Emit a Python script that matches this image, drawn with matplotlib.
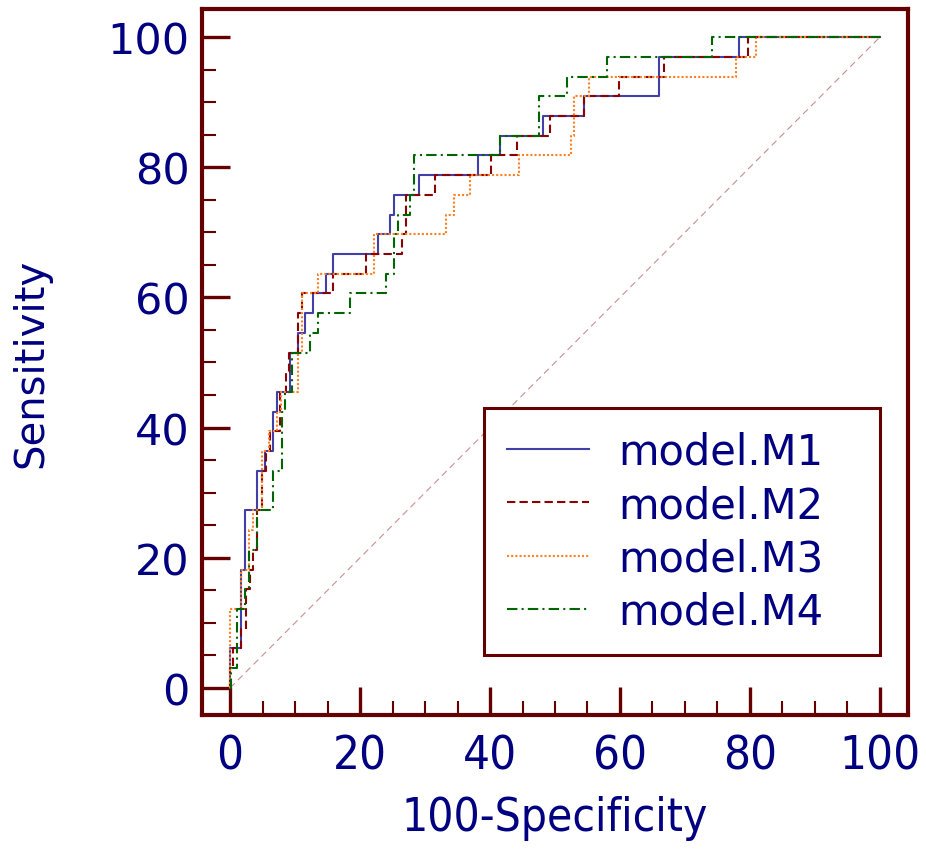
import matplotlib
matplotlib.use("Agg")
import matplotlib.pyplot as plt
from matplotlib.ticker import MultipleLocator

# ---- data ----
m1_fpr = [0, 0, 1.65, 2.3, 4.15, 5.4, 6.6, 7.2, 9.3, 10.5, 11.6, 12.8, 14.7, 15.9, 22.7, 24.6, 25.2,
          29.0, 38.2, 41.6, 48.1, 54.4, 66.0, 78.3, 100]
m1_tpr = [0, 6.1, 18.2, 27.3, 33.3, 36.4, 42.4, 45.5, 51.5, 54.5, 57.6, 60.6, 63.6, 66.7, 69.7, 72.7, 75.8,
          78.8, 81.8, 84.8, 87.9, 90.9, 97.0, 100, 100]

m2_fpr = [0, 0, 0.5, 1.75, 2.45, 3.0, 3.6, 4.2, 4.9, 5.5, 6.15, 7.7, 8.6, 9.15, 10.4, 11.0, 15.9, 20.9,
          26.5, 27.1, 31.5, 40.1, 44.2, 49.3, 54.4, 59.9, 66.7, 79.7, 100]
m2_tpr = [0, 3.0, 6.1, 9.1, 15.2, 18.2, 21.2, 27.3, 33.3, 36.4, 39.4, 45.5, 48.5, 51.5, 57.6, 60.6, 63.6, 66.7,
          69.7, 75.8, 78.8, 81.8, 84.8, 87.9, 90.9, 93.9, 97.0, 100, 100]

m3_fpr = [0, 0, 1.7, 2.9, 3.6, 4.9, 6.0, 7.2, 7.9, 10.4, 11.0, 13.6, 22.2, 33.3, 34.5, 36.9, 44.4,
          52.5, 53.0, 55.2, 77.9, 81.0, 100]
m3_tpr = [0, 12.1, 18.2, 24.2, 27.3, 36.4, 39.4, 42.4, 45.5, 51.5, 60.6, 63.6, 69.7, 72.7, 75.8, 78.8, 81.8,
          84.8, 90.9, 93.9, 97.0, 100, 100]

m4_fpr = [0, 0.2, 1.1, 2.3, 2.9, 4.15, 6.6, 7.95, 8.5, 9.6, 12.3, 13.6, 18.5, 24.0, 25.2, 25.9, 27.7,
          28.3, 41.5, 47.6, 51.8, 58.0, 74.2, 100]
m4_tpr = [0, 3.0, 12.1, 15.2, 21.2, 27.3, 33.3, 42.4, 45.5, 51.5, 54.5, 57.6, 60.6, 63.6, 69.7, 72.7, 75.8,
          81.8, 84.8, 90.9, 93.9, 97.0, 100, 100]

labels = ["model.M1", "model.M2", "model.M3", "model.M4"]
xticks = [0, 20, 40, 60, 80, 100]
yticks = [0, 20, 40, 60, 80, 100]

# ---- style ----
spine_c = "#650000"
text_c = "#000080"
colors = ["#4040a8", "#8b0000", "#ff7f24", "#006400"]
styles = ["-", (0, (4, 2)), (0, (1, 1)), (0, (5, 2, 1, 2))]

fig = plt.figure(figsize=(9.26, 8.54), dpi=100)
ax = fig.add_axes([202 / 926, 1 - 716 / 854, 706 / 926, 706 / 854])

ax.plot([0, 100], [0, 100], color="#c89090", lw=0.8, ls=(0, (6, 4)), zorder=1)

series = [(m1_fpr, m1_tpr), (m2_fpr, m2_tpr), (m3_fpr, m3_tpr), (m4_fpr, m4_tpr)]
for (fx, ty), c, s, lab in zip(series, colors, styles, labels):
    ax.plot(fx, ty, drawstyle="steps-post", color=c, ls=s, lw=1.5, label=lab, zorder=3)

ax.set_xlim(-4.31, 104.31)
ax.set_ylim(-4.15, 104.3)

for sp in ax.spines.values():
    sp.set_color(spine_c)
    sp.set_linewidth(3)

ax.set_xticks(xticks)
ax.set_yticks(yticks)
ax.xaxis.set_minor_locator(MultipleLocator(5))
ax.yaxis.set_minor_locator(MultipleLocator(5))
ax.tick_params(which="major", direction="in", length=20, width=2.4, color=spine_c,
               top=False, right=False)
ax.tick_params(which="minor", direction="in", length=10, width=1.5, color=spine_c,
               top=False, right=False)
ax.tick_params(axis="y", which="major", pad=9, labelsize=31, labelcolor=text_c)
ax.tick_params(axis="x", which="major", pad=13, labelsize=34, labelcolor=text_c)
for t in ax.get_xticklabels():
    t.set_fontstretch("condensed")
    t.set_family("DejaVu Sans")

ax.set_xlabel("100-Specificity", fontsize=33, color=text_c, fontstretch="condensed", labelpad=12)
ax.set_ylabel("Sensitivity", fontsize=29, color=text_c, labelpad=40)

leg = ax.legend(loc="upper left", bbox_to_anchor=(0.399, 0.0864, 0.561, 0.3486), mode="expand",
                borderaxespad=0, fontsize=30, handlelength=1.97, handletextpad=0.72,
                labelspacing=0.27, borderpad=0.55, fancybox=False, framealpha=1)
leg.get_frame().set_edgecolor(spine_c)
leg.get_frame().set_linewidth(2.2)
for t in leg.get_texts():
    t.set_color(text_c)

fig.savefig("out.png", dpi=100)
